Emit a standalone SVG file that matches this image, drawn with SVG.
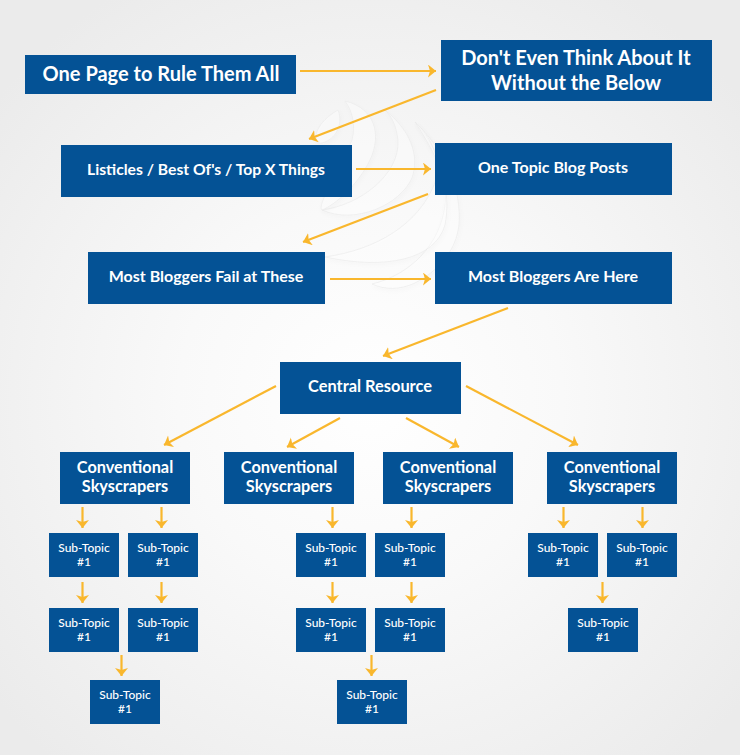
<svg xmlns="http://www.w3.org/2000/svg" width="740" height="755" viewBox="0 0 740 755">
<style>
.b{fill:#045295}
.t{font-family:Lato,"Liberation Sans",sans-serif;font-weight:700;fill:#fff;text-anchor:middle}
.s{font-size:12px;font-weight:500}
.c{font-size:16.300px}
.m{font-size:16px}
.l{font-size:20px}
.a{stroke:#f9b72d;stroke-width:2.200;fill:none;marker-end:url(#h)}
.g{fill:#ffffff;fill-opacity:.4;stroke:#e9e9e9;stroke-opacity:.6;stroke-width:1;filter:url(#sh)}
</style>
<defs>
<radialGradient id="bg" gradientUnits="userSpaceOnUse" cx="370" cy="400" r="480">
<stop offset="0" stop-color="#ffffff"/><stop offset="0.4" stop-color="#f9f9f9"/><stop offset="1" stop-color="#ebebeb"/>
</radialGradient>
<filter id="sh" x="-20%" y="-20%" width="140%" height="140%"><feDropShadow dx="1" dy="2" stdDeviation="2" flood-color="#000" flood-opacity="0.04"/></filter>
<marker id="h" markerUnits="userSpaceOnUse" markerWidth="12" markerHeight="14" refX="8" refY="6.500" orient="auto">
<path d="M0 0L8 6.500L0 13L2 6.500Z" fill="#f9b72d"/>
</marker>
</defs>
<rect width="740" height="755" fill="url(#bg)"/>
<g id="globe">
<path class="g" d="M415 122C445 150 462 190 459 225C456 250 440 270 415 283C400 290 385 290 372 284C410 275 440 245 445 205C449 175 435 145 415 122Z"/>
<path class="g" d="M415 122C440 160 452 190 445 225C435 260 385 270 325 257C375 250 420 225 436 180C442 160 430 135 415 122Z"/>
<path class="g" d="M385 110C410 130 420 155 412 178C400 205 355 225 322 210C360 205 400 175 398 140C396 125 392 117 385 110Z"/>
<path class="g" d="M345 101C375 108 382 135 370 160C358 185 335 205 322 210C316 206 340 170 352 140C356 125 352 110 345 101Z"/>
<path class="g" d="M338 110C344 125 335 140 322 143C312 145 312 125 338 110Z"/>
</g>
<g id="connectors">
<path class="a" d="M300 71H436"/>
<path class="a" d="M436 90L309 139"/>
<path class="a" d="M356 169H431"/>
<path class="a" d="M428 194L303 242"/>
<path class="a" d="M330 279H431"/>
<path class="a" d="M508 308L383 356"/>
<path class="a" d="M276 386L164 445"/>
<path class="a" d="M340 418L287 447"/>
<path class="a" d="M406 418L459 447"/>
<path class="a" d="M466 386L578 445"/>
<path class="a" d="M82.500 507V528"/><path class="a" d="M161.500 507V528"/>
<path class="a" d="M332.500 507V528"/><path class="a" d="M411.500 507V528"/>
<path class="a" d="M563.500 507V528"/><path class="a" d="M642.500 507V528"/>
<path class="a" d="M82.500 582V603"/><path class="a" d="M161.500 582V603"/>
<path class="a" d="M332.500 582V603"/><path class="a" d="M411.500 582V603"/>
<path class="a" d="M602.500 582V603"/>
<path class="a" d="M121.500 655V676"/><path class="a" d="M371.500 655V676"/>
</g>
<g id="n1"><rect class="b" x="25" y="55" width="271" height="39"/><text class="t l" x="161" y="81">One Page to Rule Them All</text></g>
<g id="n2"><rect class="b" x="441" y="40" width="271" height="61"/><text class="t l" x="576" y="65">Don't Even Think About It</text><text class="t l" x="576" y="90">Without the Below</text></g>
<g id="n3"><rect class="b" x="61" y="145" width="291" height="52"/><text class="t m" x="206" y="175" textLength="238" lengthAdjust="spacingAndGlyphs">Listicles / Best Of's / Top X Things</text></g>
<g id="n4"><rect class="b" x="435" y="143" width="237" height="52"/><text class="t m" x="553" y="173">One Topic Blog Posts</text></g>
<g id="n5"><rect class="b" x="88" y="252" width="237" height="52"/><text class="t m" x="206" y="282">Most Bloggers Fail at These</text></g>
<g id="n6"><rect class="b" x="435" y="252" width="237" height="52"/><text class="t m" x="553" y="282">Most Bloggers Are Here</text></g>
<g id="n7"><rect class="b" x="280" y="362" width="181" height="52"/><text class="t m" x="370" y="392" style="font-size:16.400px">Central Resource</text></g>
<g id="c1"><rect class="b" x="60" y="452" width="130" height="52"/><text class="t c" x="125" y="473">Conventional</text><text class="t c" x="125" y="492">Skyscrapers</text></g>
<g id="c2"><rect class="b" x="224" y="452" width="130" height="52"/><text class="t c" x="289" y="473">Conventional</text><text class="t c" x="289" y="492">Skyscrapers</text></g>
<g id="c3"><rect class="b" x="383" y="452" width="130" height="52"/><text class="t c" x="448" y="473">Conventional</text><text class="t c" x="448" y="492">Skyscrapers</text></g>
<g id="c4"><rect class="b" x="547" y="452" width="130" height="52"/><text class="t c" x="612" y="473">Conventional</text><text class="t c" x="612" y="492">Skyscrapers</text></g>
<g id="s1"><rect class="b" x="49" y="533" width="70" height="44"/><text class="t s" x="84" y="552">Sub-Topic</text><text class="t s" x="84" y="566">#1</text></g>
<g id="s2"><rect class="b" x="128" y="533" width="70" height="44"/><text class="t s" x="163" y="552">Sub-Topic</text><text class="t s" x="163" y="566">#1</text></g>
<g id="s3"><rect class="b" x="296" y="533" width="70" height="44"/><text class="t s" x="331" y="552">Sub-Topic</text><text class="t s" x="331" y="566">#1</text></g>
<g id="s4"><rect class="b" x="375" y="533" width="70" height="44"/><text class="t s" x="410" y="552">Sub-Topic</text><text class="t s" x="410" y="566">#1</text></g>
<g id="s5"><rect class="b" x="528" y="533" width="70" height="44"/><text class="t s" x="563" y="552">Sub-Topic</text><text class="t s" x="563" y="566">#1</text></g>
<g id="s6"><rect class="b" x="607" y="533" width="70" height="44"/><text class="t s" x="642" y="552">Sub-Topic</text><text class="t s" x="642" y="566">#1</text></g>
<g id="s7"><rect class="b" x="49" y="608" width="70" height="44"/><text class="t s" x="84" y="627">Sub-Topic</text><text class="t s" x="84" y="641">#1</text></g>
<g id="s8"><rect class="b" x="128" y="608" width="70" height="44"/><text class="t s" x="163" y="627">Sub-Topic</text><text class="t s" x="163" y="641">#1</text></g>
<g id="s9"><rect class="b" x="296" y="608" width="70" height="44"/><text class="t s" x="331" y="627">Sub-Topic</text><text class="t s" x="331" y="641">#1</text></g>
<g id="s10"><rect class="b" x="375" y="608" width="70" height="44"/><text class="t s" x="410" y="627">Sub-Topic</text><text class="t s" x="410" y="641">#1</text></g>
<g id="s11"><rect class="b" x="568" y="608" width="70" height="44"/><text class="t s" x="603" y="627">Sub-Topic</text><text class="t s" x="603" y="641">#1</text></g>
<g id="s12"><rect class="b" x="90" y="680" width="70" height="44"/><text class="t s" x="125" y="699">Sub-Topic</text><text class="t s" x="125" y="713">#1</text></g>
<g id="s13"><rect class="b" x="337" y="680" width="70" height="44"/><text class="t s" x="372" y="699">Sub-Topic</text><text class="t s" x="372" y="713">#1</text></g>
</svg>
